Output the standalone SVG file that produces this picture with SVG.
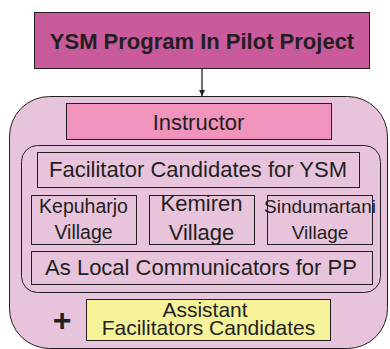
<svg xmlns="http://www.w3.org/2000/svg" width="390" height="349" viewBox="0 0 390 349">
  <defs>
    <marker id="arrow" viewBox="0 0 10 10" refX="10" refY="5" markerWidth="6" markerHeight="6" orient="auto" markerUnits="userSpaceOnUse">
      <path d="M0,0 L10,5 L0,10 z" fill="#231f20"/>
    </marker>
    <style>
      text { font-family: "Liberation Sans", Arial, sans-serif; fill: #231f20; text-anchor: middle; }
      .box { stroke: #231f20; stroke-width: 1; }
      .plain { fill: none; stroke: #231f20; stroke-width: 1; }
      .label { font-size: 22px; }
      .village { font-size: 19.5px; }
      .assist { font-size: 21px; }
    </style>
  </defs>
  <rect width="390" height="349" fill="#ffffff"/>

  <g id="program">
    <rect class="box" x="34.5" y="12.5" width="335" height="56" fill="#c95a9c"/>
    <text x="202" y="48.5" font-size="22" font-weight="bold">YSM Program In Pilot Project</text>
  </g>

  <g id="connectors">
    <line x1="202" y1="68.5" x2="202" y2="96" stroke="#231f20" stroke-width="1.3" marker-end="url(#arrow)"/>
  </g>

  <g id="pilot">
    <rect class="box" x="9.5" y="96.5" width="378" height="252" rx="40" ry="40" fill="#e8c4dc"/>
  </g>

  <g id="instructor">
    <rect class="box" x="66.5" y="103.5" width="265" height="36" fill="#f093bd"/>
    <text class="label" x="198.5" y="130">Instructor</text>
  </g>

  <g id="facilitators">
    <rect class="plain" x="21.5" y="145.5" width="359" height="147" rx="16" ry="16"/>
    <rect class="plain" x="37.5" y="152.5" width="322" height="35"/>
    <text class="label" x="198" y="177">Facilitator Candidates for YSM</text>
  </g>

  <g id="kepuharjo">
    <rect class="plain" x="31.5" y="195.5" width="105" height="49"/>
    <text class="village" x="83.5" y="213">Kepuharjo</text>
    <text class="village" x="83.5" y="239">Village</text>
  </g>

  <g id="kemiren">
    <rect class="plain" x="149.5" y="195.5" width="105" height="49"/>
    <text class="label" x="201.5" y="211">Kemiren</text>
    <text class="label" x="201.5" y="240">Village</text>
  </g>

  <g id="sindumartani">
    <rect class="plain" x="267.5" y="195.5" width="105" height="49"/>
    <text x="320" y="213" font-size="19">Sindumartani</text>
    <text x="320" y="239" font-size="19">Village</text>
  </g>

  <g id="communicators">
    <rect class="plain" x="31.5" y="251.5" width="341" height="33"/>
    <text class="label" x="201" y="275">As Local Communicators for PP</text>
  </g>

  <g id="assistants">
    <text x="62" y="331" font-size="32" font-weight="bold">+</text>
    <rect class="box" x="86.5" y="299.5" width="244" height="41" fill="#f5f29a"/>
    <text class="assist" x="205" y="316.5">Assistant</text>
    <text class="assist" x="208.5" y="334.5">Facilitators Candidates</text>
  </g>
</svg>
